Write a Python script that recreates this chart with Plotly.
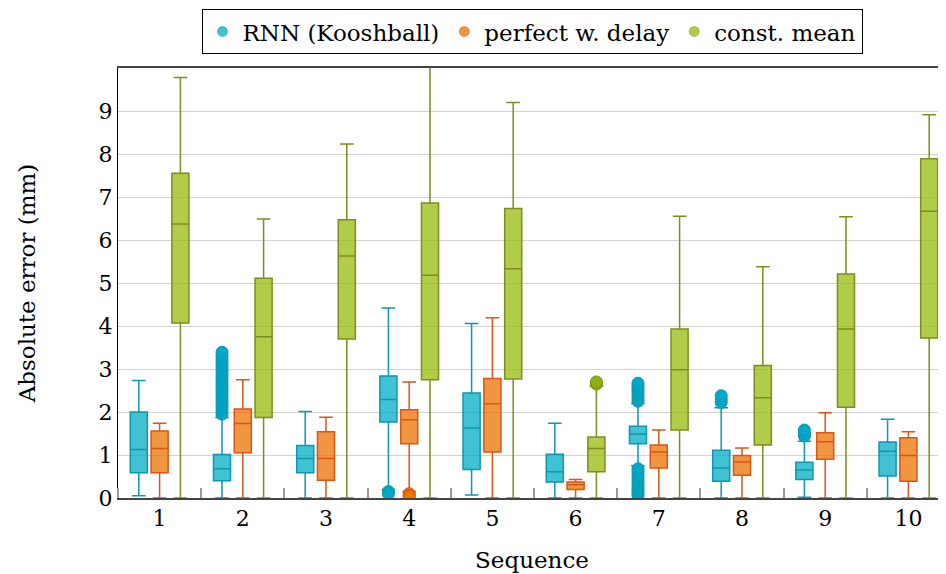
import plotly.graph_objects as go

sequences = [1, 2, 3, 4, 5, 6, 7, 8, 9, 10]
series_names = ["RNN (Kooshball)", "perfect w. delay", "const. mean"]

# RNN (Kooshball)
rnn_low = [0.05, 0.0, 0.0, 0.20, 0.07, 0.0, 0.75, 0.0, 0.02, 0.0]
rnn_q1 = [0.59, 0.40, 0.59, 1.77, 0.66, 0.37, 1.26, 0.39, 0.43, 0.51]
rnn_med = [1.13, 0.68, 0.92, 2.29, 1.63, 0.61, 1.49, 0.70, 0.65, 1.09]
rnn_q3 = [2.00, 1.01, 1.22, 2.84, 2.44, 1.02, 1.67, 1.11, 0.83, 1.30]
rnn_high = [2.73, 1.87, 2.01, 4.42, 4.06, 1.74, 2.20, 2.10, 1.32, 1.83]

# perfect w. delay
pwd_low = [0.0, 0.0, 0.0, 0.15, 0.0, 0.0, 0.0, 0.0, 0.0, 0.0]
pwd_q1 = [0.59, 1.05, 0.41, 1.26, 1.07, 0.20, 0.70, 0.53, 0.90, 0.39]
pwd_med = [1.15, 1.73, 0.92, 1.82, 2.19, 0.31, 1.07, 0.84, 1.31, 0.99]
pwd_q3 = [1.56, 2.07, 1.54, 2.05, 2.78, 0.37, 1.23, 0.99, 1.52, 1.40]
pwd_high = [1.74, 2.75, 1.88, 2.70, 4.19, 0.43, 1.58, 1.16, 1.98, 1.54]

# const. mean
cm_low = [0.0, 0.0, 0.0, 0.0, 0.0, 0.0, 0.0, 0.0, 0.0, 0.0]
cm_q1 = [4.07, 1.87, 3.70, 2.75, 2.77, 0.61, 1.58, 1.23, 2.11, 3.72]
cm_med = [6.37, 3.75, 5.63, 5.18, 5.33, 1.15, 2.98, 2.33, 3.93, 6.67]
cm_q3 = [7.55, 5.11, 6.47, 6.86, 6.73, 1.42, 3.93, 3.08, 5.21, 7.89]
cm_high = [9.78, 6.49, 8.23, 10.40, 9.20, 2.60, 6.55, 5.38, 6.54, 8.91]

# outliers: (sequence, value)
rnn_out_seq = [2] * 20 + [4, 4] + [7] * 8 + [7] * 11 + [8, 8, 8] + [9, 9, 9]
rnn_out_val = [1.95, 2.02, 2.10, 2.18, 2.25, 2.33, 2.40, 2.48, 2.55, 2.62,
               2.70, 2.78, 2.85, 2.93, 3.00, 3.08, 3.15, 3.22, 3.30, 3.39,
               0.15, 0.10,
               2.25, 2.32, 2.38, 2.45, 2.50, 2.56, 2.62, 2.67,
               0.05, 0.10, 0.15, 0.20, 0.27, 0.33, 0.40, 0.47, 0.55, 0.62, 0.68,
               2.22, 2.30, 2.38,
               1.44, 1.50, 1.58]
pwd_out_seq = [4, 4, 4]
pwd_out_val = [0.10, 0.06, 0.03]
cm_out_seq = [6, 6]
cm_out_val = [2.65, 2.70]

yticks = [0, 1, 2, 3, 4, 5, 6, 7, 8, 9]

fills = ["rgba(0,172,198,0.75)", "rgba(235,115,2,0.75)", "rgba(150,187,11,0.75)"]
lines = ["#0E97AE", "#D7561A", "#7F8C20"]
dots = ["#00A8C8", "#EC7400", "#8DB010"]
offsets = [-0.25, 0.0, 0.25]

stats = [
    (rnn_low, rnn_q1, rnn_med, rnn_q3, rnn_high, rnn_out_seq, rnn_out_val),
    (pwd_low, pwd_q1, pwd_med, pwd_q3, pwd_high, pwd_out_seq, pwd_out_val),
    (cm_low, cm_q1, cm_med, cm_q3, cm_high, cm_out_seq, cm_out_val),
]

FONT = "DejaVu Serif, Liberation Serif, serif"
fig = go.Figure()
for i, (lo, q1, md, q3, hi, oseq, oval) in enumerate(stats):
    off = offsets[i]
    fig.add_trace(go.Box(
        x=[s + off for s in sequences],
        q1=q1, median=md, q3=q3, lowerfence=lo, upperfence=hi,
        width=0.205, whiskerwidth=0.8,
        fillcolor=fills[i], line=dict(color=lines[i], width=1.5),
        boxpoints=False, showlegend=False, hoverinfo="skip",
    ))
    fig.add_trace(go.Scatter(
        x=[s + off for s in oseq], y=oval, mode="markers",
        marker=dict(size=12, color=dots[i], line=dict(color=lines[i], width=1)),
        showlegend=False, hoverinfo="skip",
    ))
    fig.add_trace(go.Scatter(
        x=[None], y=[None], mode="markers", name=series_names[i],
        marker=dict(size=10, color=fills[i], line=dict(color=lines[i], width=0.5)),
    ))

# the page places the figure 8 px from the top-left corner
fig.update_layout(
    width=938, height=566,
    margin=dict(l=110, r=0, t=60, b=76),
    paper_bgcolor="white", plot_bgcolor="white",
    font=dict(family=FONT, size=22, color="black"),
    boxmode="overlay",
    legend=dict(
        orientation="h", x=0.5, xanchor="center", y=0.998, yanchor="top",
        yref="container", bordercolor="black", borderwidth=1,
        font=dict(family=FONT, size=23), itemwidth=30,
        tracegroupgap=0,
    ),
    xaxis=dict(
        range=[0.5, 10.452], tickvals=sequences, ticktext=[str(s) for s in sequences],
        ticks="", showgrid=False, zeroline=False,
        showline=True, linecolor="#444", linewidth=1.5, mirror=True,
        tickfont=dict(size=22), ticklabelstandoff=0,
        minor=dict(tick0=0.5, dtick=1, ticks="inside", ticklen=10, tickcolor="#999", tickwidth=1.5),
        title=dict(text="Sequence", font=dict(size=23), standoff=22),
    ),
    yaxis=dict(
        range=[0, 10], tickvals=yticks, ticktext=[str(v) for v in yticks],
        showgrid=True, gridcolor="#d3d3d3", gridwidth=1, zeroline=False,
        showline=True, linecolor="black", linewidth=1.2,
        ticks="", tickfont=dict(size=22),
        title=dict(text="Absolute error (mm)", font=dict(size=23), standoff=56),
    ),
)

fig.write_html("out.html")
